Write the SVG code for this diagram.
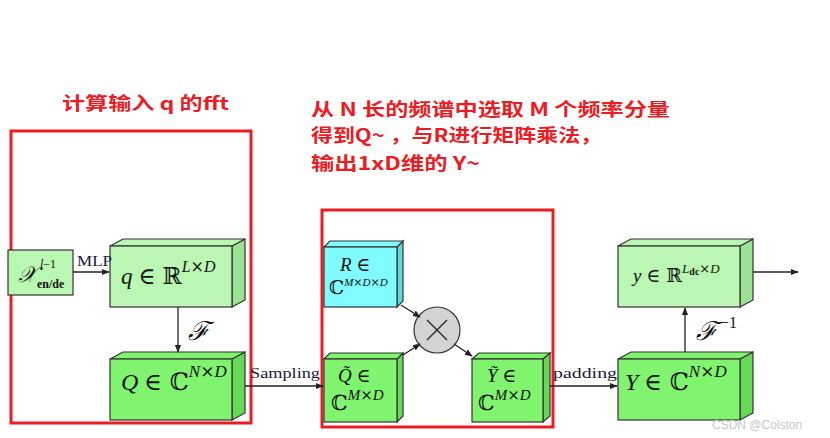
<svg xmlns="http://www.w3.org/2000/svg" width="830" height="438" viewBox="0 0 830 438">
<style>
.red{fill:none;stroke:#ec1c24;stroke-width:3}
.note{font-family:"Microsoft YaHei","Noto Sans CJK SC",sans-serif;font-weight:bold;font-size:18px;fill:#ec1c24}
.m{font-family:"Liberation Serif","DejaVu Serif",serif;font-style:italic;fill:#111}
.r{font-family:"DejaVu Serif","Liberation Serif",serif;font-style:normal}
.lbl{font-family:"Liberation Serif",serif;font-size:15px;fill:#1a1a3a}
.bx{stroke:#333;stroke-width:1.2}
.lg{fill:#b9f7b3}.lgs{fill:#9be294}
.g{fill:#80f36f}.gs{fill:#66d957}
.c{fill:#80fbff}.cs{fill:#5fd9dd}
.ln{stroke:#222;stroke-width:1.3;fill:none}
</style>
<defs>
<marker id="ah" viewBox="0 0 10 10" refX="9" refY="5" markerWidth="6" markerHeight="6" orient="auto">
<path d="M0,1 L10,5 L0,9 Z" fill="#222"/>
</marker>
</defs>

<g id="annotations">
<rect class="red" x="11" y="131" width="240" height="292"/>
<rect class="red" x="322" y="210" width="231" height="217"/>
<text class="note" x="62" y="110" textLength="167" lengthAdjust="spacingAndGlyphs">计算输入 q 的fft</text>
<text class="note" x="311" y="116" textLength="359" lengthAdjust="spacingAndGlyphs">从 N 长的频谱中选取 M 个频率分量</text>
<text class="note" x="311" y="142" textLength="291" lengthAdjust="spacingAndGlyphs">得到Q~ ，与R进行矩阵乘法，</text>
<text class="note" x="311" y="170" textLength="169" lengthAdjust="spacingAndGlyphs">输出1xD维的 Y~</text>
</g>

<g id="node-x">
<rect class="bx lg" x="8" y="250" width="65" height="45"/>
<text class="m" x="18" y="282" font-size="22">𝒳</text>
<text class="m" x="40" y="268" font-size="12">l<tspan font-style="normal">−1</tspan></text>
<text x="37" y="288" font-family="Liberation Serif,serif" font-size="12" font-weight="bold" fill="#111">en/de</text>
</g>

<g id="node-q">
<polygon class="bx lgs" points="232,246 245,239 245,300 232,307"/>
<polygon class="bx lg" points="110,246 123,239 245,239 232,246"/>
<rect class="bx lg" x="110" y="246" width="122" height="61"/>
<text class="m" x="121" y="284" font-size="23">q <tspan class="r">∈ ℝ</tspan><tspan font-size="16" dy="-12">L</tspan><tspan font-size="16" class="r">×</tspan><tspan font-size="16">D</tspan></text>
</g>

<g id="node-Q">
<polygon class="bx gs" points="232,359 245,352 245,413 232,420"/>
<polygon class="bx g" points="110,359 123,352 245,352 232,359"/>
<rect class="bx g" x="110" y="359" width="122" height="61"/>
<text class="m" x="121" y="390" font-size="24">Q <tspan class="r">∈ ℂ</tspan><tspan font-size="17" dy="-13">N</tspan><tspan font-size="17" class="r">×</tspan><tspan font-size="17">D</tspan></text>
</g>

<g id="node-R">
<polygon class="bx cs" points="397,247 403,241 403,301 397,307"/>
<polygon class="bx c" points="324,247 330,241 403,241 397,247"/>
<rect class="bx c" x="324" y="247" width="73" height="60"/>
<text class="m" x="340" y="271" font-size="19">R <tspan class="r">∈</tspan></text>
<text class="m" x="329" y="294" font-size="19"><tspan class="r">ℂ</tspan><tspan font-size="11" dy="-8">M</tspan><tspan font-size="11" class="r">×</tspan><tspan font-size="11">D</tspan><tspan font-size="11" class="r">×</tspan><tspan font-size="11">D</tspan></text>
</g>

<g id="node-Qt">
<polygon class="bx gs" points="397,359 403,353 403,416 397,422"/>
<polygon class="bx g" points="324,359 330,353 403,353 397,359"/>
<rect class="bx g" x="324" y="359" width="73" height="63"/>
<text class="m" x="338" y="382" font-size="19">Q̃ <tspan class="r">∈</tspan></text>
<text class="m" x="331" y="410" font-size="21"><tspan class="r">ℂ</tspan><tspan font-size="15" dy="-10">M</tspan><tspan font-size="15" class="r">×</tspan><tspan font-size="15">D</tspan></text>
</g>

<g id="node-mul">
<circle cx="437" cy="330" r="23" fill="#d3d3d3" stroke="#333" stroke-width="1.2"/>
<path d="M427,320 L447,340 M447,320 L427,340" stroke="#222" stroke-width="1.3" fill="none"/>
</g>

<g id="node-Yt">
<polygon class="bx gs" points="543,359 550,353 550,416 543,422"/>
<polygon class="bx g" points="472,359 479,353 550,353 543,359"/>
<rect class="bx g" x="472" y="359" width="71" height="63"/>
<text class="m" x="487" y="382" font-size="19">Ỹ <tspan class="r">∈</tspan></text>
<text class="m" x="478" y="410" font-size="21"><tspan class="r">ℂ</tspan><tspan font-size="15" dy="-10">M</tspan><tspan font-size="15" class="r">×</tspan><tspan font-size="15">D</tspan></text>
</g>

<g id="node-Y">
<polygon class="bx gs" points="740,359 753,352 753,413 740,420"/>
<polygon class="bx g" points="618,359 631,352 753,352 740,359"/>
<rect class="bx g" x="618" y="359" width="122" height="61"/>
<text class="m" x="625" y="390" font-size="24">Y <tspan class="r">∈ ℂ</tspan><tspan font-size="17" dy="-13">N</tspan><tspan font-size="17" class="r">×</tspan><tspan font-size="17">D</tspan></text>
</g>

<g id="node-y">
<polygon class="bx lgs" points="740,246 753,239 753,300 740,307"/>
<polygon class="bx lg" points="618,246 631,239 753,239 740,246"/>
<rect class="bx lg" x="618" y="246" width="122" height="61"/>
<text class="m" x="633" y="282" font-size="19">y <tspan class="r">∈ ℝ</tspan><tspan font-size="13" dy="-9">L</tspan><tspan font-size="10" dy="2" font-weight="bold" font-style="normal">dc</tspan><tspan font-size="13" dy="-2" class="r">×</tspan><tspan font-size="13">D</tspan></text>
</g>

<g id="connectors">
<line class="ln" x1="73" y1="272" x2="109" y2="272" marker-end="url(#ah)"/>
<text class="lbl" x="77" y="266" textLength="35" lengthAdjust="spacingAndGlyphs">MLP</text>
<line class="ln" x1="178" y1="307" x2="178" y2="352" marker-end="url(#ah)"/>
<text class="m" x="188" y="340" font-size="26">ℱ</text>
<line class="ln" x1="245" y1="386" x2="323" y2="386" marker-end="url(#ah)"/>
<text class="lbl" x="250" y="378" textLength="70" lengthAdjust="spacingAndGlyphs">Sampling</text>
<line class="ln" x1="401" y1="305" x2="420" y2="317" marker-end="url(#ah)"/>
<line class="ln" x1="403" y1="355" x2="420" y2="344" marker-end="url(#ah)"/>
<line class="ln" x1="454" y1="344" x2="472" y2="356" marker-end="url(#ah)"/>
<line class="ln" x1="550" y1="386" x2="617" y2="386" marker-end="url(#ah)"/>
<text class="lbl" x="553" y="378" textLength="64" lengthAdjust="spacingAndGlyphs">padding</text>
<line class="ln" x1="685" y1="352" x2="685" y2="308" marker-end="url(#ah)"/>
<text class="m" x="696" y="340" font-size="26">ℱ<tspan font-size="16" dx="3" dy="-12" font-style="normal" font-family="Liberation Serif,serif">−1</tspan></text>
<line class="ln" x1="753" y1="272" x2="798" y2="272" marker-end="url(#ah)"/>
</g>

<text x="712" y="429" font-family="Liberation Sans,sans-serif" font-size="12" fill="#c8c8c8">CSDN @Colston</text>
</svg>
